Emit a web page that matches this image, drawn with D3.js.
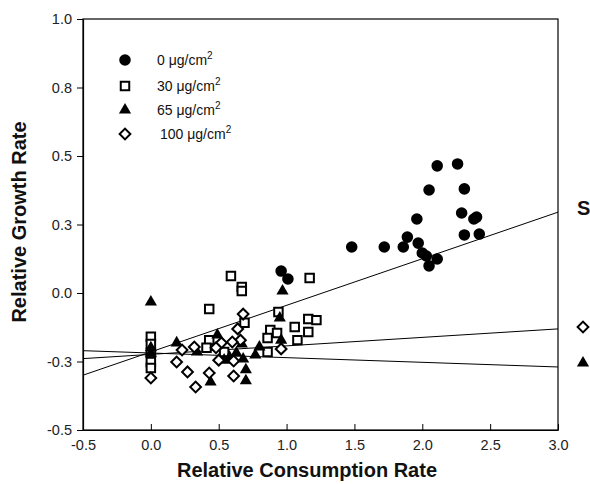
<!DOCTYPE html>
<html>
<head>
<meta charset="utf-8">
<script src="https://cdn.jsdelivr.net/npm/d3@7"></script>
<style>
  body { margin: 0; background: #fff; }
  svg { display: block; font-family: Arial, "Liberation Sans", sans-serif; }
</style>
</head>
<body>
<div id="chart"></div>
<script>
// tick values and their printed labels (y ticks every 0.25, printed with one decimal)
const xTicks = [-0.5, 0.0, 0.5, 1.0, 1.5, 2.0, 2.5, 3.0];
const xTickLabels = ["-0.5", "0.0", "0.5", "1.0", "1.5", "2.0", "2.5", "3.0"];
const yTicks = [-0.5, -0.25, 0.0, 0.25, 0.5, 0.75, 1.0];
const yTickLabels = ["-0.5", "-0.3", "0.0", "0.3", "0.5", "0.8", "1.0"];

// series: [relative consumption rate, relative growth rate]
const dose0 = [
    [0.96, 0.080], [1.01, 0.051], [1.48, 0.168], [1.72, 0.168], [1.86, 0.168],
    [1.89, 0.204], [1.96, 0.270], [1.97, 0.182], [2.00, 0.146], [2.03, 0.135],
    [2.05, 0.099], [2.11, 0.124], [2.05, 0.376], [2.11, 0.464], [2.26, 0.471],
    [2.31, 0.380], [2.29, 0.292], [2.38, 0.270], [2.40, 0.277], [2.31, 0.212],
    [2.42, 0.215]
];
const dose30 = [
    [0.59, 0.062], [0.67, 0.022], [0.67, 0.007], [1.17, 0.055], [0.43, -0.058],
    [0.94, -0.069], [0.69, -0.109], [0.43, -0.172], [0.41, -0.200], [0.54, -0.215],
    [0.88, -0.135], [0.86, -0.164], [0.93, -0.146], [0.86, -0.215], [1.06, -0.124],
    [1.08, -0.172], [1.16, -0.142], [1.16, -0.095], [1.22, -0.099],
    [0.0, -0.160], [0.0, -0.186], [0.0, -0.219], [0.0, -0.252], [0.0, -0.274]
];
const dose65 = [
    [0.0, -0.033], [0.0, -0.200], [0.0, -0.220], [0.19, -0.182], [0.34, -0.215],
    [0.49, -0.153], [0.54, -0.245], [0.63, -0.219], [0.67, -0.186], [0.68, -0.241],
    [0.70, -0.280], [0.70, -0.320], [0.44, -0.325], [0.77, -0.226], [0.80, -0.197],
    [0.96, -0.172], [0.95, -0.091], [0.97, 0.007], [0.58, -0.235]
];
const dose100 = [
    [0.68, -0.077], [0.64, -0.131], [0.66, -0.172], [0.60, -0.179], [0.52, -0.182],
    [0.48, -0.200], [0.32, -0.197], [0.23, -0.208], [0.19, -0.252], [0.27, -0.288],
    [0.33, -0.343], [0.43, -0.292], [0.50, -0.245], [0.61, -0.248], [0.61, -0.303],
    [0.96, -0.204], [0.0, -0.310]
];

// fitted regression lines: [intercept, slope]
const fitLines = [
    [-0.215, 0.170],
    [-0.224, 0.031],
    [-0.219, -0.017]
];

const legendLabels = ["0 μg/cm", "30 μg/cm", "65 μg/cm", "100 μg/cm"];

const width = 590, height = 484;
const plot = {left: 83, right: 558, top: 19, bottom: 430};

const svg = d3.select("#chart")
    .append("svg")
    .attr("width", width)
    .attr("height", height);

const x = d3.scaleLinear().domain([-0.5, 3.0]).range([plot.left, plot.right]);
const y = d3.scaleLinear().domain([-0.5, 1.0]).range([plot.bottom, plot.top]);

// marker shapes
const shapes = [
    {path: d3.symbol(d3.symbolCircle, 105)(), fill: "#000", stroke: "none", rot: 0},
    {path: d3.symbol(d3.symbolSquare, 72)(), fill: "#fff", stroke: "#000", rot: 0},
    {path: d3.symbol(d3.symbolTriangle, 64)(), fill: "#000", stroke: "none", rot: 0},
    {path: d3.symbol(d3.symbolSquare, 58)(), fill: "#fff", stroke: "#000", rot: 45}
];

function marker(g, s, cx, cy) {
    g.append("path")
        .attr("d", s.path)
        .attr("transform", `translate(${cx},${cy}) rotate(${s.rot})`)
        .attr("fill", s.fill)
        .attr("stroke", s.stroke)
        .attr("stroke-width", 2);
}

// frame
svg.append("rect")
    .attr("x", plot.left).attr("y", plot.top)
    .attr("width", plot.right - plot.left)
    .attr("height", plot.bottom - plot.top)
    .attr("fill", "none")
    .attr("stroke", "#000")
    .attr("stroke-width", 1.2);

// axes
const xAxis = svg.append("g")
    .attr("transform", `translate(0,${plot.bottom})`)
    .call(d3.axisBottom(x).tickValues(xTicks)
        .tickFormat((d, i) => xTickLabels[i])
        .tickSize(-6).tickSizeOuter(0).tickPadding(10));

const yAxis = svg.append("g")
    .attr("transform", `translate(${plot.left},0)`)
    .call(d3.axisLeft(y).tickValues(yTicks)
        .tickFormat((d, i) => yTickLabels[i])
        .tickSize(6).tickSizeOuter(0).tickPadding(5));

[xAxis, yAxis].forEach(a => {
    a.select(".domain").attr("stroke", "#000").attr("stroke-width", 1.2);
    a.selectAll(".tick line").attr("stroke", "#000");
    a.selectAll("text").attr("font-size", 14.5).attr("fill", "#222")
        .attr("font-family", "Arial, 'Liberation Sans', sans-serif");
});

// regression lines
svg.append("g").selectAll("line")
    .data(fitLines)
    .enter()
    .append("line")
    .attr("x1", x(-0.5))
    .attr("x2", x(3.0))
    .attr("y1", d => y(d[0] + d[1] * -0.5))
    .attr("y2", d => y(d[0] + d[1] * 3.0))
    .attr("stroke", "#000")
    .attr("stroke-width", 1);

// points
const marks = svg.append("g");
[dose0, dose30, dose65, dose100].forEach((series, i) => {
    series.forEach(d => marker(marks, shapes[i], x(d[0]), y(d[1])));
});

// legend
const legend = svg.append("g");
const legendRows = [60, 86, 110, 134];
legendLabels.forEach((label, i) => {
    marker(legend, shapes[i], 125, legendRows[i]);
    const t = legend.append("text")
        .attr("x", i === 3 ? 160 : 157)
        .attr("y", legendRows[i] + 5)
        .attr("font-size", 14)
        .attr("fill", "#111");
    t.append("tspan").text(label);
    t.append("tspan").attr("font-size", 10).attr("dy", -6).text("2");
});

// axis titles
svg.append("text")
    .attr("x", 307)
    .attr("y", 477)
    .attr("text-anchor", "middle")
    .attr("font-size", 20)
    .attr("font-weight", "bold")
    .attr("fill", "#111")
    .text("Relative Consumption Rate");

svg.append("text")
    .attr("transform", "translate(26,222) rotate(-90)")
    .attr("text-anchor", "middle")
    .attr("font-size", 20)
    .attr("font-weight", "bold")
    .attr("fill", "#111")
    .text("Relative Growth Rate");

// cut-off neighbouring panel at the right edge
svg.append("text")
    .attr("x", 577)
    .attr("y", 215)
    .attr("font-size", 20)
    .attr("font-weight", "bold")
    .attr("fill", "#111")
    .text("S");
marker(svg, shapes[3], 583, 327);
marker(svg, shapes[2], 583, 363);
</script>
</body>
</html>
